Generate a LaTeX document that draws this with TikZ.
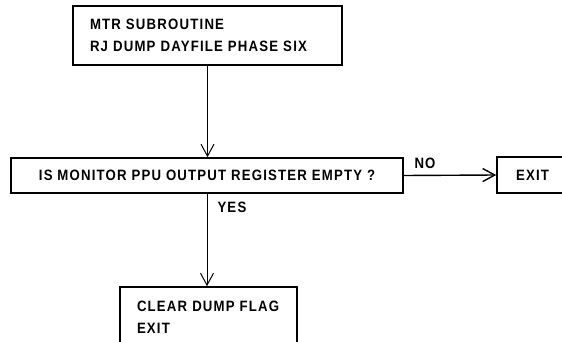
\documentclass[tikz,border=0pt]{standalone}
\usepackage{fontspec}
\usetikzlibrary{arrows.meta}

% hand-lettered look: narrow bold sans, spaced out a little
\newfontfamily\letterfont{Liberation Sans}[FakeStretch=0.88,LetterSpace=8]
\newcommand{\lettering}{\letterfont\bfseries\fontsize{15}{22}\selectfont}

\tikzset{
    flowbox/.style={draw, line width=1.6pt, font=\lettering, inner sep=0pt},
    flowline/.style={line width=1pt, -{Straight Barb[length=12pt,width=13pt]}},
    answer/.style={font=\lettering, inner sep=0pt},
}

\begin{document}
\begin{tikzpicture}[x=1pt, y=1pt]

    \clip (0,0) rectangle (562,341);

    % --- Entry block ---
    \node[flowbox, minimum width=269pt, minimum height=59pt, text width=235pt,
          inner xsep=17pt, align=left] (mtr) at (207.5,305.5)
        {MTR SUBROUTINE\\RJ DUMP DAYFILE PHASE SIX};

    % --- Decision ---
    \node[flowbox, minimum width=392pt, minimum height=35pt] (ppu) at (207,165.5)
        {IS MONITOR PPU OUTPUT REGISTER EMPTY ?};
    \node[flowbox, minimum width=71pt, minimum height=36pt] (exitno) at (532.5,166)
        {EXIT};

    % --- Register empty ---
    \node[flowbox, minimum width=177pt, minimum height=60pt, text width=143pt,
          inner xsep=17pt, align=left] (clear) at (208.5,24)
        {CLEAR DUMP FLAG\\EXIT};

    % Connectors
    \draw[flowline] (mtr.south) -- (mtr.south |- ppu.north);
    \draw[flowline, line width=1.4pt] (ppu.east) --
        node[pos=0, answer, anchor=south west, xshift=10pt, yshift=6pt] {NO} (exitno.west);
    \draw[flowline] (ppu.south) --
        node[pos=0, answer, anchor=north west, xshift=10pt, yshift=-8pt] {YES} (ppu.south |- clear.north);

\end{tikzpicture}
\end{document}
